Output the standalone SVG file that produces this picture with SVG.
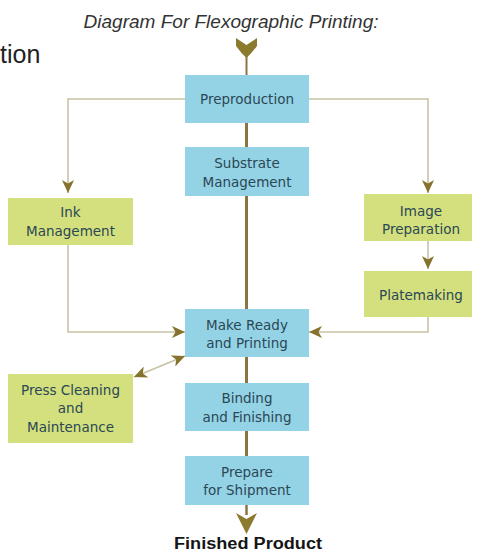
<svg xmlns="http://www.w3.org/2000/svg" width="482" height="554" viewBox="0 0 482 554">
<style>
.blue{fill:#93d3e5}
.green{fill:#d3e07d}
.lbl{font-family:"DejaVu Sans",sans-serif;font-size:13.5px;fill:#2c4755;text-anchor:middle}
.thin{fill:none;stroke:#c9c2a4;stroke-width:1.6}
.spine{fill:none;stroke:#8a7444;stroke-width:3}
.big{fill:#8c7a2e}
</style>
<defs>
<marker id="ah" viewBox="0 -6 13 12" refX="13" refY="0" markerWidth="13" markerHeight="12" markerUnits="userSpaceOnUse" orient="auto-start-reverse">
<path d="M0,-6 L13,0 L0,6 L3.5,0 Z" fill="#85722c"/>
</marker>
</defs>
<rect width="482" height="554" fill="#ffffff"/>
<text x="231" y="28" font-family="Liberation Sans, sans-serif" font-style="italic" font-size="18" fill="#333" text-anchor="middle" textLength="295" lengthAdjust="spacingAndGlyphs">Diagram For Flexographic Printing:</text>
<text x="0" y="63" font-family="Liberation Sans, sans-serif" font-size="25" fill="#222">tion</text>
<g id="connectors">
<line class="spine" x1="246.5" y1="123" x2="246.5" y2="456"/>
<line x1="246.5" y1="56" x2="246.5" y2="75" stroke="#8a7444" stroke-width="2"/>
<path class="big" d="M236,38 L246.5,45 L257,38 L257,46 Q252,53 246.5,58 Q241,53 236,46 Z"/>
<line x1="246.5" y1="505" x2="246.5" y2="515" stroke="#8a7444" stroke-width="2.5"/>
<path class="big" d="M236,513 L246.5,519 L257,513 L246.5,534 Z"/>
<path class="thin" d="M185,99 H68 V193" marker-end="url(#ah)"/>
<path class="thin" d="M309,99 H428 V193" marker-end="url(#ah)"/>
<path class="thin" d="M428,241 V269" marker-end="url(#ah)"/>
<path class="thin" d="M68,245 V332 H185" marker-end="url(#ah)"/>
<path class="thin" d="M428,317 V332 H309" marker-end="url(#ah)"/>
<path class="thin" d="M134,377 L185,356" marker-start="url(#ah)" marker-end="url(#ah)"/>
</g>
<g id="preproduction"><rect class="blue" x="185" y="75" width="124" height="48"/><text class="lbl" x="247" y="104">Preproduction</text></g>
<g id="substrate"><rect class="blue" x="185" y="147" width="124" height="49"/><text class="lbl" x="247" y="168">Substrate</text><text class="lbl" x="247" y="187">Management</text></g>
<g id="ink"><rect class="green" x="8" y="198" width="125" height="47"/><text class="lbl" x="70.5" y="217">Ink</text><text class="lbl" x="70.5" y="236">Management</text></g>
<g id="image"><rect class="green" x="364" y="194" width="108" height="47"/><text class="lbl" x="421" y="216">Image</text><text class="lbl" x="421" y="234">Preparation</text></g>
<g id="platemaking"><rect class="green" x="364" y="271" width="108" height="46"/><text class="lbl" x="421" y="300">Platemaking</text></g>
<g id="makeready"><rect class="blue" x="185" y="309" width="124" height="48"/><text class="lbl" x="247" y="330">Make Ready</text><text class="lbl" x="247" y="348">and Printing</text></g>
<g id="press"><rect class="green" x="8" y="374" width="125" height="69"/><text class="lbl" x="70.5" y="395">Press Cleaning</text><text class="lbl" x="70.5" y="413">and</text><text class="lbl" x="70.5" y="432">Maintenance</text></g>
<g id="binding"><rect class="blue" x="185" y="383" width="124" height="48"/><text class="lbl" x="247" y="403">Binding</text><text class="lbl" x="247" y="422">and Finishing</text></g>
<g id="prepare"><rect class="blue" x="185" y="456" width="124" height="49"/><text class="lbl" x="247" y="477">Prepare</text><text class="lbl" x="247" y="495">for Shipment</text></g>
<g id="finished"><text x="248" y="549" font-family="Liberation Sans, sans-serif" font-weight="bold" font-size="16" fill="#151515" text-anchor="middle" textLength="148" lengthAdjust="spacingAndGlyphs">Finished Product</text></g>
</svg>
